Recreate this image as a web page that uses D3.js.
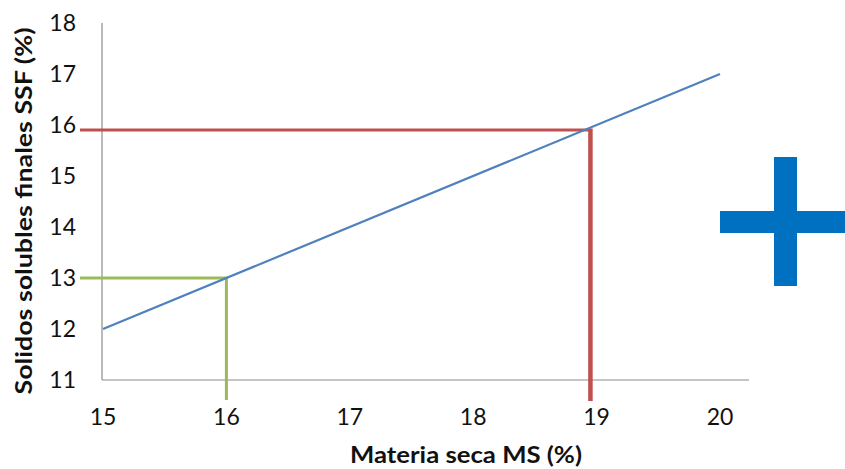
<!DOCTYPE html>
<html><head><meta charset="utf-8">
<script src="https://cdn.jsdelivr.net/npm/d3@7"></script>
<style>body{margin:0;background:#fff}svg{display:block}</style>
</head><body>
<script>
const xTicks = [15,16,17,18,19,20];
const yTicks = [11,12,13,14,15,16,17,18];
const lineX = [15,20];
const lineY = [12,17];
const greenPoint = [16,13];
const redPoint = [18.95,15.9];
const xTitle = "Materia seca MS (%)";
const yTitle = "Solidos solubles finales SSF (%)";

const W=845,H=469;
const svg=d3.select("body").append("svg").attr("width",W).attr("height",H);
const x=d3.scaleLinear().domain([15,20]).range([103,720]);
const y=d3.scaleLinear().domain([11,18]).range([380,23]);
const font="Lato, 'Open Sans', sans-serif";

// axes lines
svg.append("line").attr("x1",102).attr("x2",749).attr("y1",y(11)).attr("y2",y(11)).attr("stroke","#8c8c8c").attr("stroke-width",1.2);
svg.append("line").attr("x1",102).attr("x2",102).attr("y1",y(18)).attr("y2",y(11)).attr("stroke","#8c8c8c").attr("stroke-width",1.2);

// tick labels
svg.selectAll(".yt").data(yTicks).enter().append("text")
 .attr("x",76).attr("y",d=>y(d)).attr("dy","0.36em").attr("text-anchor","end")
 .attr("font-family",font).attr("font-size",23).attr("fill","#111").text(d=>d);
svg.selectAll(".xt").data(xTicks).enter().append("text")
 .attr("x",d=>x(d)).attr("y",417).attr("dy","0.36em").attr("text-anchor","middle")
 .attr("font-family",font).attr("font-size",23).attr("fill","#111").text(d=>d);

// titles
svg.append("text").attr("x",466).attr("y",455).attr("dy","0.36em").attr("text-anchor","middle")
 .attr("font-family",font).attr("font-weight","bold").attr("font-size",23).attr("fill","#111")
 .attr("textLength",232).attr("lengthAdjust","spacingAndGlyphs").text(xTitle);
svg.append("text").attr("transform","translate(24,211) rotate(-90)").attr("dy","0.36em").attr("text-anchor","middle")
 .attr("font-family",font).attr("font-weight","bold").attr("font-size",23).attr("fill","#111")
 .attr("textLength",367).attr("lengthAdjust","spacingAndGlyphs").text(yTitle);

// green guide
svg.append("path").attr("fill","none").attr("stroke","#9bbb59").attr("stroke-width",3)
 .attr("d",`M80,${y(greenPoint[1])}H${x(greenPoint[0])}V400`);
// red guide
svg.append("path").attr("fill","none").attr("stroke","#c0504d").attr("stroke-width",3)
 .attr("d",`M80,${y(redPoint[1])}H${x(redPoint[0])}`);
svg.append("line").attr("x1",x(redPoint[0])).attr("x2",x(redPoint[0])).attr("y1",y(redPoint[1])-1.5).attr("y2",401)
 .attr("stroke","#c0504d").attr("stroke-width",4.5);

// blue line
svg.append("path").attr("fill","none").attr("stroke","#4f81bd").attr("stroke-width",2.2)
 .attr("d",d3.line().x(d=>x(d[0])).y(d=>y(d[1]))(lineX.map((v,i)=>[v,lineY[i]])));

// plus sign
svg.append("rect").attr("x",774).attr("y",157).attr("width",23).attr("height",129).attr("fill","#0070c0");
svg.append("rect").attr("x",720).attr("y",211).attr("width",125).attr("height",22).attr("fill","#0070c0");
</script>
</body></html>
